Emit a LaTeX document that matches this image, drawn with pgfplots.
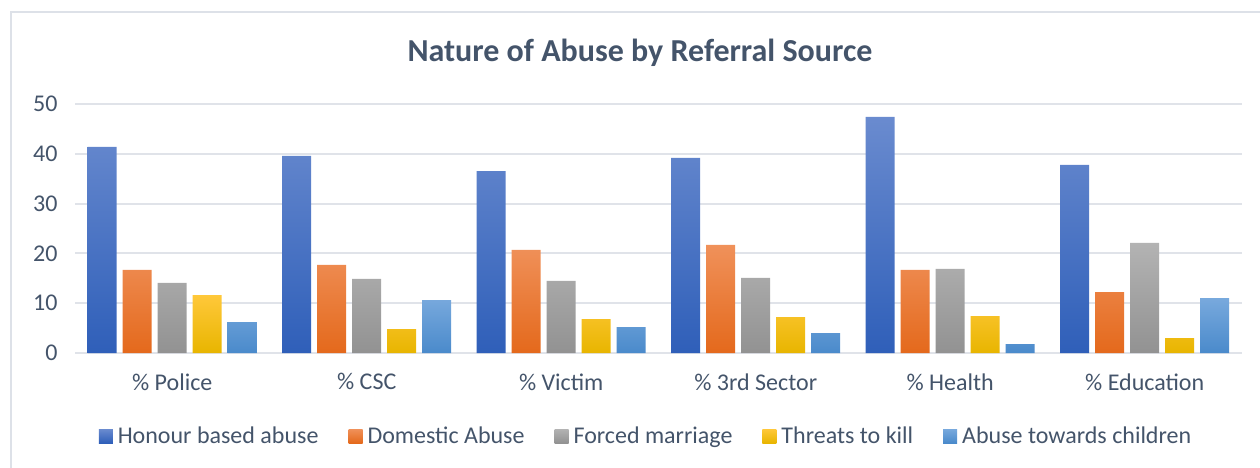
\documentclass[border=0pt]{standalone}
\usepackage{pgfplots}
\pgfplotsset{compat=1.18}
\usepackage{fontspec}
\setmainfont{Carlito}
\definecolor{txt}{HTML}{44546A}
\definecolor{gridc}{HTML}{E0E3E9}
\definecolor{framec}{HTML}{DDE1E8}
\definecolor{c1t}{HTML}{6A8BCF}\definecolor{c1b}{HTML}{2F5FB9}
\definecolor{c2t}{HTML}{F0915A}\definecolor{c2b}{HTML}{E4691C}
\definecolor{c3t}{HTML}{B3B3B3}\definecolor{c3b}{HTML}{929292}
\definecolor{c4t}{HTML}{FFC83A}\definecolor{c4b}{HTML}{E8B500}
\definecolor{c5t}{HTML}{78A9DD}\definecolor{c5b}{HTML}{4A8ACB}
\begin{document}
\begin{tikzpicture}[x=1bp,y=1bp]
\path[use as bounding box] (0,0) rectangle (1260,-468);
\draw[framec,line width=2bp] (1260,-12) -- (11,-12) -- (11,-470);
\node[font=\fontsize{32bp}{36bp}\selectfont\bfseries,text=txt] at (640,-53) {Nature of Abuse by Referral Source};
\begin{axis}[
  at={(75bp,-353bp)}, anchor=south west,
  scale only axis, width=1167bp, height=249bp,
  xmin=-0.5, xmax=5.5, ymin=0, ymax=50,
  ytick={0,10,...,50},
  xtick={0,...,5},
  xticklabels={\% Police,\% CSC,\% Victim,\% 3rd Sector,\% Health,\% Education},
  axis line style={draw=none},
  ymajorgrids=true, xmajorgrids=false,
  grid style={draw=gridc,line width=2bp},
  major tick length=0pt,
  tick label style={font=\fontsize{24bp}{28bp}\selectfont,text=txt},
  /pgf/number format/assume math mode=true,
  xticklabel style={yshift=-17bp},
  yticklabel style={xshift=-14bp},
  ybar=6bp, bar width=29bp,
  legend columns=-1,
  legend style={at={(571bp,-83bp)},anchor=center, draw=none, fill=none,
    font=\fontsize{24bp}{28bp}\selectfont, text=txt,
    /tikz/every even column/.append style={column sep=28bp},
    /tikz/every odd column/.append style={column sep=3bp},
    inner sep=0pt},
  legend cell align=left,
  legend image code/.code={\path[#1,draw=none] (0bp,-7bp) rectangle (14bp,7bp);},
]
\addplot[draw=none,top color=c1t,bottom color=c1b] coordinates {(0,41.4) (1,39.6) (2,36.5) (3,39.2) (4,47.4) (5,37.8)};
\addplot[draw=none,top color=c2t,bottom color=c2b] coordinates {(0,16.7) (1,17.7) (2,20.7) (3,21.7) (4,16.7) (5,12.2)};
\addplot[draw=none,top color=c3t,bottom color=c3b] coordinates {(0,14.1) (1,14.9) (2,14.5) (3,15.1) (4,16.9) (5,22.1)};
\addplot[draw=none,top color=c4t,bottom color=c4b] coordinates {(0,11.6) (1,4.8) (2,6.8) (3,7.2) (4,7.4) (5,3.0)};
\addplot[draw=none,top color=c5t,bottom color=c5b] coordinates {(0,6.2) (1,10.6) (2,5.2) (3,4.0) (4,1.8) (5,11.0)};
\legend{Honour based abuse,Domestic Abuse,Forced marriage,Threats to kill,Abuse towards children}
\end{axis}
\end{tikzpicture}
\end{document}
